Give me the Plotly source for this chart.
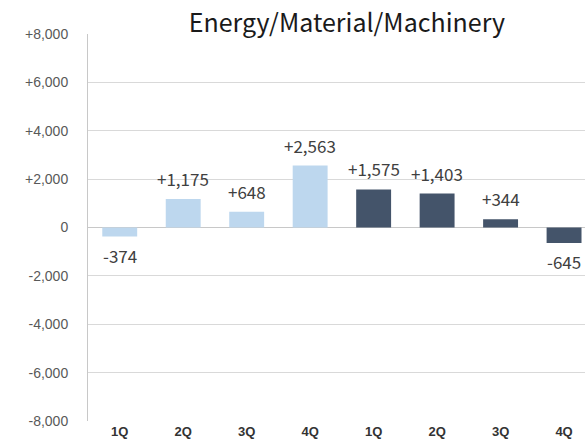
import plotly.graph_objects as go

categories = ["1Q", "2Q", "3Q", "4Q", "1Q", "2Q", "3Q", "4Q"]
values = [-374, 1175, 648, 2563, 1575, 1403, 344, -645]
bar_colors = ["#BDD7EE"] * 4 + ["#44546A"] * 4
ytick_vals = [-8000, -6000, -4000, -2000, 0, 2000, 4000, 6000, 8000]
ytick_text = ["-8,000", "-6,000", "-4,000", "-2,000", "0", "+2,000", "+4,000", "+6,000", "+8,000"]

def fmt(v):
    return ("+" if v > 0 else "-" if v < 0 else "") + f"{abs(v):,}"

x = list(range(len(values)))
fig = go.Figure(go.Bar(
    x=x, y=values, marker_color=bar_colors, width=0.55,
    marker_line_width=0, cliponaxis=False,
))
for xi, v in zip(x, values):
    fig.add_annotation(
        x=xi, y=v, text=fmt(v), showarrow=False,
        yanchor="bottom" if v >= 0 else "top",
        yshift=6 if v >= 0 else -4,
        font=dict(size=17, color="#404040", family="Noto Sans CJK JP"),
    )
fig.update_layout(
    width=585, height=442,
    margin=dict(l=88, r=0, t=34, b=21, autoexpand=False),
    paper_bgcolor="white", plot_bgcolor="white",
    showlegend=False,
    title=dict(text="Energy/Material/Machinery", x=0.593, xanchor="center",
               y=0.948, yanchor="middle",
               font=dict(size=25, color="#1a1a1a", family="Noto Sans CJK JP")),
    xaxis=dict(tickvals=x, ticktext=categories, range=[-0.5, 7.33],
               showgrid=False, showline=False, ticks="", automargin=False,
               tickfont=dict(size=13, color="#333333", family="Liberation Sans",
                             weight="bold"),
               ticklabelstandoff=1),
    yaxis=dict(range=[-8000, 8000], tickvals=ytick_vals, ticktext=ytick_text,
               showgrid=True, gridcolor="#d9d9d9", gridwidth=1,
               zeroline=True, zerolinecolor="#c8c8c8", zerolinewidth=1,
               showline=True, linecolor="#c8c8c8", linewidth=1,
               ticks="", ticklabelstandoff=16, automargin=False,
               tickfont=dict(size=14, color="#595959", family="Liberation Sans")),
    bargap=0.45,
)
fig.write_html("out.html", config={"displayModeBar": False},
               post_script="document.body.style.margin='0';document.body.style.overflow='hidden';")
